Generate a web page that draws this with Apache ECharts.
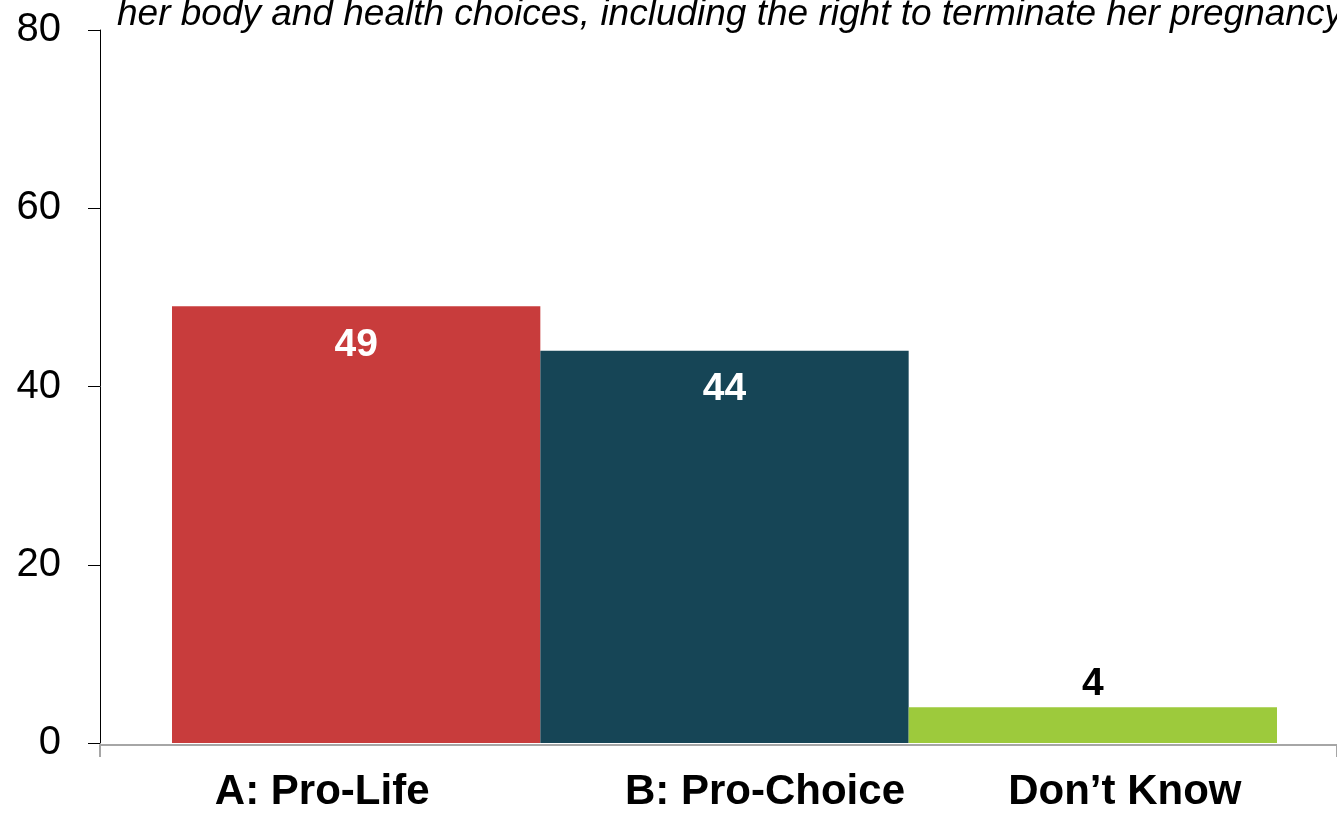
<!DOCTYPE html>
<html>
<head>
<meta charset="utf-8">
<script src="https://cdn.jsdelivr.net/npm/echarts@6/dist/echarts.min.js"></script>
<style>
html,body{margin:0;padding:0;background:#fff;}
#chart{width:1337px;height:813px;}
</style>
</head>
<body>
<div id="chart"></div>
<script>
const categories = ['A: Pro-Life', 'B: Pro-Choice', 'Don\u2019t Know'];
const values = [49, 44, 4];
const yTicks = [0, 20, 40, 60, 80];
const titleText = 'her body and health choices, including the right to terminate her pregnancy';

const barColors = ['#C83C3C', '#164556', '#9DCA3C'];
const labelColors = ['#FFFFFF', '#FFFFFF', '#000000'];
const labelPositions = ['insideTop', 'insideTop', 'top'];
const labelPads = [[0, 68, 0, 0], [0, 0, 0, 81], [0, 0, 0, 64]];

const chart = echarts.init(document.getElementById('chart'), null, {renderer: 'canvas'});
const font = 'Liberation Sans, Arial, sans-serif';

chart.setOption({
  animation: false,
  backgroundColor: '#ffffff',
  title: {
    text: titleText,
    left: 112,
    top: -9,
    textStyle: {fontFamily: font, fontSize: 37, fontStyle: 'italic', fontWeight: 'normal', color: '#000'}
  },
  grid: [
    {left: 172, right: 60, top: 30, bottom: 68},
    {left: 100, right: -4, top: 30, bottom: 68}
  ],
  xAxis: [
    {
      type: 'category', gridIndex: 0,
      data: categories.map((c, i) => ({value: c, textStyle: {padding: labelPads[i]}})),
      axisLine: {show: false}, axisTick: {show: false},
      axisLabel: {fontFamily: font, fontSize: 42, fontWeight: 'bold', color: '#000', margin: 28, interval: 0}
    },
    {
      type: 'category', gridIndex: 1, data: [''], boundaryGap: true, z: 10,
      axisLine: {show: true, lineStyle: {color: '#A6A6A6', width: 2}},
      axisTick: {show: true, length: 12, lineStyle: {color: '#A6A6A6', width: 2}},
      axisLabel: {show: false}
    }
  ],
  yAxis: [
    {
      type: 'value', gridIndex: 0, min: yTicks[0], max: yTicks[yTicks.length - 1], interval: yTicks[1] - yTicks[0],
      offset: 72,
      axisLine: {show: true, lineStyle: {color: '#000', width: 1}},
      axisTick: {show: true, length: 12, lineStyle: {color: '#000', width: 1}},
      splitLine: {show: false},
      axisLabel: {fontFamily: font, fontSize: 40, color: '#000', margin: 39}
    },
    {
      type: 'value', gridIndex: 1, min: 0, max: 80, show: false
    }
  ],
  series: [{
    type: 'bar',
    xAxisIndex: 0, yAxisIndex: 0,
    barCategoryGap: 0,
    data: values.map((v, i) => ({
      value: v,
      itemStyle: {color: barColors[i]},
      label: {show: true, position: labelPositions[i], color: labelColors[i], distance: i < 2 ? 19 : 4}
    })),
    label: {fontFamily: font, fontSize: 39, fontWeight: 'bold'}
  }]
});
</script>
</body>
</html>
